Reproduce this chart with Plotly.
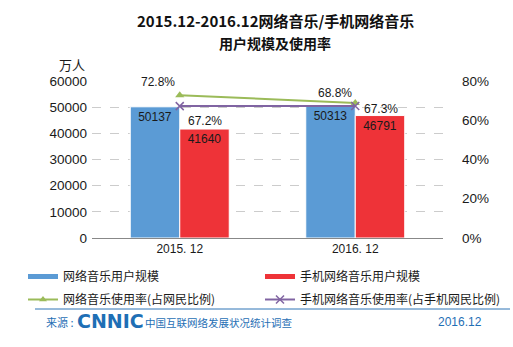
import plotly.graph_objects as go

categories = ["2015. 12", "2016. 12"]
music_users = [50137, 50313]
mobile_music_users = [41640, 46791]
music_rate = [0.728, 0.688]
mobile_music_rate = [0.672, 0.673]
left_ticks = [0, 10000, 20000, 30000, 40000, 50000, 60000]
right_ticks = [0, 0.2, 0.4, 0.6, 0.8]

CJK = "Noto Sans CJK SC"
LAT = "Liberation Sans"

W, H = 513, 347
L, R, T, B = 92, 70, 81, 109
pw, ph = W - L - R, H - T - B
def px(x): return (x - L) / pw
def py(y): return (H - B - y) / ph

fig = go.Figure()
fig.add_trace(go.Bar(
    x=categories, y=music_users, name="网络音乐用户规模",
    marker=dict(color="#5B9BD5", line=dict(color="white", width=1)),
    text=[str(v) for v in music_users], textposition="inside", insidetextanchor="end",
    textfont=dict(family=LAT, size=12, color="#1a1a1a"), showlegend=False,
))
fig.add_trace(go.Bar(
    x=categories, y=mobile_music_users, name="手机网络音乐用户规模",
    marker=dict(color="#EE3338", line=dict(color="white", width=1)),
    text=[str(v) for v in mobile_music_users], textposition="inside", insidetextanchor="end",
    textfont=dict(family=LAT, size=12, color="#1a1a1a"), showlegend=False,
))
fig.add_trace(go.Scatter(
    x=categories, y=music_rate, yaxis="y2", name="网络音乐使用率（占网民比例）",
    mode="lines+markers", line=dict(color="#9BBB59", width=2),
    marker=dict(symbol="triangle-up", size=8, color="#9BBB59"),
    showlegend=False, cliponaxis=False,
))
fig.add_trace(go.Scatter(
    x=categories, y=mobile_music_rate, yaxis="y2", name="手机网络音乐使用率（占手机网民比例）",
    mode="lines+markers", line=dict(color="#8064A2", width=2),
    marker=dict(symbol="x-thin-open", size=8, line=dict(color="#8064A2", width=1.5)),
    showlegend=False, cliponaxis=False,
))
# legend proxies, each in its own legend box so positions can be set
proxies = [
    ("网络音乐用户规模", dict(mode="lines", line=dict(color="#5B9BD5", width=5)), "legend", 23, 262),
    ("手机网络音乐用户规模", dict(mode="lines", line=dict(color="#EE3338", width=5)), "legend2", 260, 262),
    ("网络音乐使用率(占网民比例)", dict(mode="lines+markers", line=dict(color="#9BBB59", width=2),
                              marker=dict(symbol="triangle-up", size=7, color="#9BBB59")), "legend3", 23, 285),
    ("手机网络音乐使用率(占手机网民比例)", dict(mode="lines+markers", line=dict(color="#8064A2", width=2),
                               marker=dict(symbol="x-thin-open", size=8, line=dict(color="#8064A2", width=1.5))),
     "legend4", 260, 285),
]
legend_layouts = {}
for name, style, lg, lx, ly in proxies:
    fig.add_trace(go.Scatter(x=[None], y=[None], name=name, legend=lg, showlegend=True, **style))
    legend_layouts[lg] = dict(x=px(lx), y=py(ly), xanchor="left", yanchor="top", orientation="h",
                              font=dict(family=CJK, size=12, color="#1a1a1a"),
                              itemwidth=30, bgcolor="rgba(0,0,0,0)", borderwidth=0)

def ann(text, x, y, font, xanchor="center"):
    return dict(text=text, x=px(x), y=py(y), xref="paper", yref="paper", showarrow=False,
                xanchor=xanchor, yanchor="middle", font=font)

annotations = [
    ann("<b>2015.12-2016.12网络音乐/手机网络音乐</b>", 275, 20, dict(family=CJK, size=15, color="#111111")),
    ann("<b>用户规模及使用率</b>", 275, 43, dict(family=CJK, size=14, color="#111111")),
    ann("万人", 72, 64, dict(family=CJK, size=13, color="#1a1a1a")),
    ann("来源 :", 44, 322, dict(family=CJK, size=11, color="#1F6FB5"), "left"),
    ann("<b>CNNIC</b>", 75, 321, dict(family="DejaVu Sans", size=19, color="#1F6FB5"), "left"),
    ann("中国互联网络发展状况统计调查", 143, 322, dict(family=CJK, size=10.5, color="#1F6FB5"), "left"),
    ann("2016.12", 484, 322, dict(family=LAT, size=12, color="#1F6FB5"), "right"),
]
# rate labels, placed at the data points with pixel offsets
label_font = dict(family=LAT, size=12, color="#1a1a1a")
green_shift = [(-22, 13), (-20, 10)]
purple_shift = [(25, -15), (26, -3)]
for cat, v, (dx, dy) in zip(categories, music_rate, green_shift):
    annotations.append(dict(x=cat, y=v, xref="x", yref="y2", text=f"{v*100:.1f}%", showarrow=False,
                            xshift=dx, yshift=dy, font=label_font))
for cat, v, (dx, dy) in zip(categories, mobile_music_rate, purple_shift):
    annotations.append(dict(x=cat, y=v, xref="x", yref="y2", text=f"{v*100:.1f}%", showarrow=False,
                            xshift=dx, yshift=dy, font=label_font))

fig.update_layout(
    width=W, height=H,
    margin=dict(l=L, r=R, t=T, b=B, autoexpand=False),
    paper_bgcolor="white", plot_bgcolor="white",
    barmode="group", bargap=0.436, bargroupgap=0,
    font=dict(family=LAT, size=12, color="#1a1a1a"),
    xaxis=dict(showline=True, linecolor="#888888", linewidth=1, ticks="", showgrid=False,
               tickfont=dict(family=LAT, size=12)),
    yaxis=dict(range=[0, 60000], tickvals=left_ticks, tickformat="d", showgrid=True, gridcolor="#cccccc",
               griddash="dash", gridwidth=1, zeroline=False, showline=False,
               tickfont=dict(family=LAT, size=13.5), ticks="", ticklabelstandoff=4),
    yaxis2=dict(range=[0, 0.8], tickvals=right_ticks, tickformat=".0%", overlaying="y",
                side="right", showgrid=False, zeroline=False, showline=False,
                tickfont=dict(family=LAT, size=13.5), ticklabelstandoff=18),
    annotations=annotations,
    shapes=[dict(type="line", xref="paper", yref="paper", x0=px(35), x1=px(510), y0=py(309), y1=py(309),
                 line=dict(color="#2E75B6", width=1))],
    **legend_layouts,
)

fig.write_html("out.html")
